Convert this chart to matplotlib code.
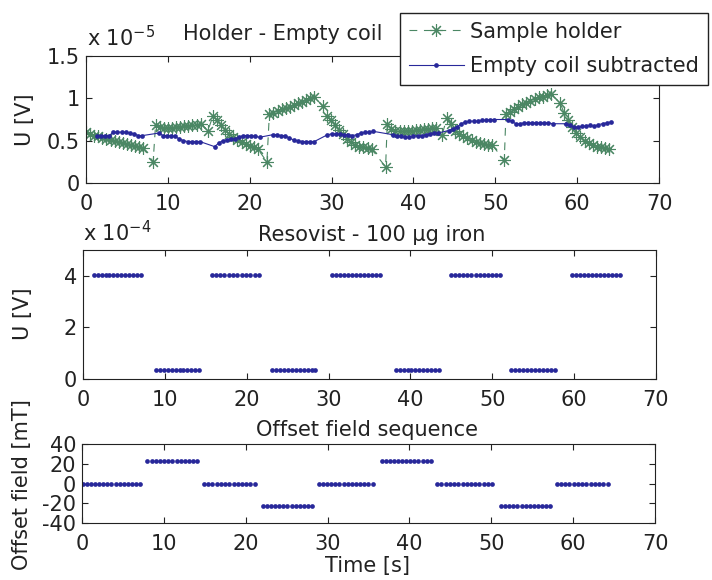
import numpy as np
import matplotlib
matplotlib.use("Agg")
import matplotlib.pyplot as plt

plt.rcParams["font.family"] = ["DejaVu Sans"]
plt.rcParams["font.size"] = 15
plt.rcParams["axes.unicode_minus"] = False
plt.rcParams["mathtext.default"] = "regular"

# ── data ──────────────────────────────────────────────────────────────────────
# sample holder signal, units of 1e-5 V: (start time, end time, values)
holder_segments = [
    (0.0, 7.0, [0.60, 0.58, 0.56, 0.55, 0.53, 0.52, 0.51, 0.50, 0.48, 0.47, 0.46, 0.45, 0.44, 0.43, 0.41]),
    (8.2, 8.2, [0.25]),
    (8.5, 14.0, [0.69, 0.66, 0.65, 0.65, 0.65, 0.66, 0.66, 0.67, 0.67, 0.68, 0.69, 0.70]),
    (14.9, 14.9, [0.62]),
    (15.5, 21.0, [0.79, 0.74, 0.69, 0.63, 0.58, 0.54, 0.51, 0.48, 0.46, 0.44, 0.42, 0.40]),
    (22.1, 22.1, [0.25]),
    (22.4, 27.9, [0.81, 0.83, 0.85, 0.87, 0.88, 0.90, 0.92, 0.94, 0.96, 0.98, 1.00, 1.02]),
    (28.9, 28.9, [0.91]),
    (29.4, 34.9, [0.79, 0.74, 0.69, 0.63, 0.58, 0.52, 0.48, 0.45, 0.43, 0.42, 0.41, 0.40]),
    (36.6, 36.6, [0.19]),
    (36.8, 42.8, [0.70, 0.64, 0.62, 0.61, 0.61, 0.62, 0.62, 0.63, 0.63, 0.64, 0.64, 0.65, 0.65]),
    (43.5, 43.5, [0.57]),
    (44.1, 49.6, [0.77, 0.70, 0.62, 0.58, 0.55, 0.53, 0.51, 0.49, 0.47, 0.46, 0.45, 0.45]),
    (51.1, 51.1, [0.27]),
    (51.3, 56.8, [0.81, 0.84, 0.87, 0.90, 0.93, 0.95, 0.97, 0.99, 1.01, 1.02, 1.04, 1.05]),
    (57.9, 57.9, [0.95]),
    (58.4, 63.9, [0.83, 0.74, 0.66, 0.59, 0.54, 0.50, 0.47, 0.45, 0.43, 0.42, 0.41, 0.40]),
]

# empty coil subtracted, units of 1e-5 V
coil_segments = [
    (1.3, 6.9, [0.55, 0.56, 0.56, 0.56, 0.60, 0.60, 0.60, 0.60, 0.59, 0.58, 0.56, 0.56]),
    (8.9, 13.9, [0.59, 0.56, 0.56, 0.56, 0.55, 0.52, 0.50, 0.49, 0.49, 0.49, 0.49]),
    (15.7, 21.2, [0.43, 0.47, 0.50, 0.51, 0.52, 0.52, 0.54, 0.56, 0.56, 0.56, 0.55, 0.54]),
    (22.8, 27.9, [0.57, 0.57, 0.56, 0.56, 0.53, 0.51, 0.50, 0.49, 0.49, 0.49, 0.49]),
    (29.5, 35.1, [0.57, 0.58, 0.58, 0.58, 0.57, 0.57, 0.56, 0.57, 0.59, 0.60, 0.60, 0.61]),
    (37.5, 43.0, [0.57, 0.56, 0.55, 0.54, 0.54, 0.55, 0.56, 0.56, 0.57, 0.58, 0.59, 0.59]),
    (44.3, 49.9, [0.62, 0.64, 0.66, 0.70, 0.72, 0.73, 0.73, 0.73, 0.74, 0.74, 0.75, 0.75]),
    (51.5, 57.0, [0.75, 0.73, 0.70, 0.70, 0.71, 0.71, 0.71, 0.71, 0.71, 0.71, 0.71, 0.70]),
    (58.6, 64.1, [0.70, 0.68, 0.66, 0.66, 0.67, 0.67, 0.68, 0.67, 0.69, 0.70, 0.71, 0.72]),
]

# Resovist signal, units of 1e-4 V, constant per block
resovist_start = [1.3, 8.9, 15.7, 23.1, 30.4, 38.2, 45.0, 52.3, 59.7]
resovist_end = [7.1, 14.2, 21.5, 28.4, 36.3, 43.5, 50.9, 57.7, 65.6]
resovist_level = [4.05, 0.34, 4.05, 0.34, 4.05, 0.34, 4.05, 0.34, 4.05]
resovist_n = [13, 12, 12, 12, 13, 12, 13, 12, 13]

# offset field sequence [mT]
offset_start = [0.1, 8.0, 14.9, 22.1, 28.9, 36.6, 43.4, 51.2, 58.0]
offset_end = [7.1, 14.1, 21.1, 28.1, 35.5, 42.6, 50.1, 57.2, 64.2]
offset_level = [0, 23, 0, -23, 0, 23, 0, -23, 0]
offset_n = [15, 13, 13, 13, 14, 13, 14, 13, 13]

BLUE = "#28289a"
GREEN = "#4b8764"
INK = "#222222"
W, H = 712, 580


def segs_to_xy(segments):
    t, v = [], []
    for t0, t1, vals in segments:
        t.extend(np.linspace(t0, t1, len(vals)))
        v.extend(vals)
    return np.array(t), np.array(v)


def blocks_to_xy(starts, ends, levels, counts):
    t, v = [], []
    for t0, t1, lev, n in zip(starts, ends, levels, counts):
        t.extend(np.linspace(t0, t1, n))
        v.extend([lev] * n)
    return np.array(t), np.array(v)


def px_axes(fig, left, top, right, bottom):
    return fig.add_axes([left / W, 1 - bottom / H, (right - left) / W, (bottom - top) / H])


def style(ax):
    ax.set_xlim(0, 70)
    ax.set_xticks(range(0, 71, 10))
    ax.tick_params(direction="in", length=4, width=0.8, top=True, right=True,
                   labelsize=15, colors=INK)
    ax.tick_params(axis="x", pad=8)
    ax.tick_params(axis="y", pad=4.3)
    for s in ax.spines.values():
        s.set_color(INK)
        s.set_linewidth(0.8)


fig = plt.figure(figsize=(W / 100, H / 100), dpi=100)

# ── top: holder - empty coil ──────────────────────────────────────────────────
ax1 = px_axes(fig, 86, 56, 659, 183)
ht, hv = segs_to_xy(holder_segments)
ct, cv = segs_to_xy(coil_segments)
ax1.plot(ht, hv, color=GREEN, lw=0.8, linestyle=(0, (7, 6)), marker=(8, 2, 0),
         markersize=9, markeredgewidth=0.8, label="Sample holder")
ax1.plot(ct, cv, color=BLUE, lw=0.8, marker="o", markersize=3.4, markeredgewidth=0,
         label="Empty coil subtracted")
style(ax1)
ax1.set_ylim(0, 1.5)
ax1.set_yticks([0, 0.5, 1, 1.5])
ax1.set_yticklabels(["0", "0.5", "1", "1.5"])
leg = ax1.legend(loc="upper left", bbox_to_anchor=(400 / W, 1 - 13 / H),
                 bbox_transform=fig.transFigure, borderaxespad=0, fancybox=False,
                 framealpha=1, edgecolor=INK, fontsize=15, borderpad=0.42,
                 handlelength=2.64, handletextpad=0.3, labelspacing=0.7)
leg.get_frame().set_linewidth(1.0)
for txt in leg.get_texts():
    txt.set_color(INK)

# ── middle: resovist ──────────────────────────────────────────────────────────
ax2 = px_axes(fig, 83, 250, 656, 379)
rt, rv = blocks_to_xy(resovist_start, resovist_end, resovist_level, resovist_n)
ax2.plot(rt, rv, color=BLUE, linestyle="none", marker="o", markersize=3.4,
         markeredgewidth=0)
style(ax2)
ax2.set_ylim(0, 5)
ax2.set_yticks([0, 2, 4])

# ── bottom: offset field ──────────────────────────────────────────────────────
ax3 = px_axes(fig, 82, 444, 655, 523)
ot, ov = blocks_to_xy(offset_start, offset_end, offset_level, offset_n)
ax3.plot(ot, ov, color=BLUE, linestyle="none", marker="o", markersize=3.4,
         markeredgewidth=0)
style(ax3)
ax3.set_ylim(-40, 40)
ax3.set_yticks([-40, -20, 0, 20, 40])

# ── titles, exponents, axis labels ────────────────────────────────────────────
def ftext(x, y, s, **kw):
    kw.setdefault("color", INK)
    kw.setdefault("fontsize", 15)
    fig.text(x / W, 1 - y / H, s, **kw)

ftext(182.7, 40, "Holder - Empty coil", ha="left", va="baseline")
ftext(87, 46, "x 10$^{-5}$", ha="left", va="baseline")
ftext(372, 240.7, "Resovist - 100 μg iron", ha="center", va="baseline")
ftext(83.3, 241.7, "x 10$^{-4}$", ha="left", va="baseline")
ftext(366.5, 436, "Offset field sequence", ha="center", va="baseline")

ftext(25, 119.5, "U [V]", rotation=90, ha="center", va="center")
ftext(23, 313.5, "U [V]", rotation=90, ha="center", va="center")
ftext(22, 485, "Offset field [mT]", rotation=90, ha="center", va="center")
ftext(367.5, 572, "Time [s]", ha="center", va="baseline")

fig.savefig("out.png", dpi=100)
